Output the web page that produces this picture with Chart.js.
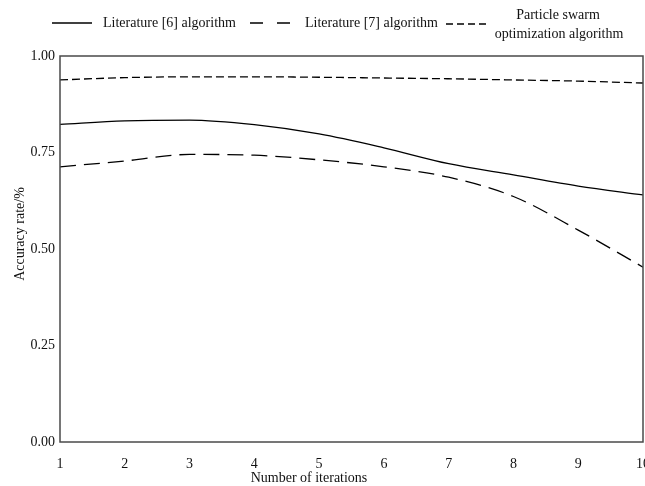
<!DOCTYPE html>
<html>
<head>
<meta charset="utf-8">
<script src="https://cdn.jsdelivr.net/npm/chart.js@4.4.0/dist/chart.umd.min.js"></script>
<style>
  html, body { margin: 0; padding: 0; background: #fff; overflow: hidden; }
  canvas { display: block; }
</style>
</head>
<body>
<canvas id="accuracyChart" width="645" height="486"></canvas>
<script>
// Data
const iterations = [1, 2, 3, 4, 5, 6, 7, 8, 9, 10];
const literature6 = [0.823, 0.832, 0.834, 0.822, 0.798, 0.762, 0.721, 0.692, 0.663, 0.640];
const literature7 = [0.713, 0.728, 0.745, 0.743, 0.731, 0.713, 0.686, 0.636, 0.549, 0.453];
const psoValues = [0.938, 0.944, 0.946, 0.946, 0.945, 0.943, 0.941, 0.938, 0.935, 0.930];
const yTicks = [0, 0.25, 0.5, 0.75, 1];
const seriesLabels = ['Literature [6] algorithm', 'Literature [7] algorithm', 'Particle swarm optimization algorithm'];

const serif = "'Liberation Serif', 'Times New Roman', serif";

function toPoints(values) {
  return iterations.map((x, i) => ({ x: x, y: values[i] }));
}

// Box around the plot, axis titles and the legend row at the top
const decorations = {
  id: 'decorations',
  afterDraw(chart) {
    const ctx = chart.ctx;
    const a = chart.chartArea;
    ctx.save();

    ctx.strokeStyle = '#4a4a4a';
    ctx.lineWidth = 1.5;
    ctx.strokeRect(a.left, a.top, a.right - a.left, a.bottom - a.top);

    ctx.fillStyle = '#111';
    ctx.font = '14px ' + serif;
    ctx.textAlign = 'center';
    ctx.textBaseline = 'middle';
    ctx.fillText('Number of iterations', 309, 478);

    ctx.save();
    ctx.translate(20, 234);
    ctx.rotate(-Math.PI / 2);
    ctx.fillText('Accuracy rate/%', 0, 0);
    ctx.restore();

    // legend
    ctx.strokeStyle = '#000';
    ctx.lineWidth = 1.3;
    const samples = [
      { x0: 52, x1: 92, y: 23, dash: [] },
      { x0: 250, x1: 291, y: 23, dash: [13, 14] },
      { x0: 446, x1: 490, y: 24, dash: [7, 4] }
    ];
    samples.forEach(s => {
      ctx.setLineDash(s.dash);
      ctx.beginPath();
      ctx.moveTo(s.x0, s.y);
      ctx.lineTo(s.x1, s.y);
      ctx.stroke();
    });
    ctx.setLineDash([]);

    ctx.textAlign = 'left';
    ctx.fillText(chart.data.datasets[0].label, 103, 23);
    ctx.fillText(chart.data.datasets[1].label, 305, 23);
    ctx.textAlign = 'center';
    ctx.fillText('Particle swarm', 558, 15);
    ctx.fillText('optimization algorithm', 559, 34);

    ctx.restore();
  }
};

new Chart(document.getElementById('accuracyChart'), {
  type: 'line',
  data: {
    datasets: [
      {
        label: seriesLabels[0],
        data: toPoints(literature6),
        borderColor: '#000',
        borderWidth: 1.3,
        pointRadius: 0,
        cubicInterpolationMode: 'monotone'
      },
      {
        label: seriesLabels[1],
        data: toPoints(literature7),
        borderColor: '#000',
        borderWidth: 1.3,
        borderDash: [16, 8],
        pointRadius: 0,
        cubicInterpolationMode: 'monotone'
      },
      {
        label: seriesLabels[2],
        data: toPoints(psoValues),
        borderColor: '#000',
        borderWidth: 1.3,
        borderDash: [8, 4],
        pointRadius: 0,
        cubicInterpolationMode: 'monotone'
      }
    ]
  },
  options: {
    responsive: false,
    animation: false,
    layout: {
      autoPadding: false,
      padding: { top: 56, right: 2, left: 0, bottom: 0 }
    },
    plugins: {
      legend: { display: false },
      tooltip: { enabled: false }
    },
    scales: {
      x: {
        type: 'linear',
        min: iterations[0],
        max: iterations[iterations.length - 1],
        grid: { display: false, drawTicks: false },
        border: { display: false },
        afterFit: scale => {
          scale.height = 44;
          scale.paddingLeft = 0;
          scale.paddingRight = 0;
        },
        afterBuildTicks: scale => {
          scale.ticks = iterations.map(v => ({ value: v }));
        },
        ticks: {
          padding: 14,
          color: '#111',
          font: { family: serif, size: 14 },
          maxRotation: 0,
          autoSkip: false
        }
      },
      y: {
        min: 0,
        max: 1,
        grid: { display: false, drawTicks: false },
        border: { display: false },
        afterFit: scale => {
          scale.width = 60;
          scale.paddingTop = 0;
          scale.paddingBottom = 0;
        },
        afterBuildTicks: scale => {
          scale.ticks = yTicks.map(v => ({ value: v }));
        },
        ticks: {
          padding: 5,
          color: '#111',
          font: { family: serif, size: 14 },
          callback: v => v.toFixed(2)
        }
      }
    }
  },
  plugins: [decorations]
});
</script>
</body>
</html>
